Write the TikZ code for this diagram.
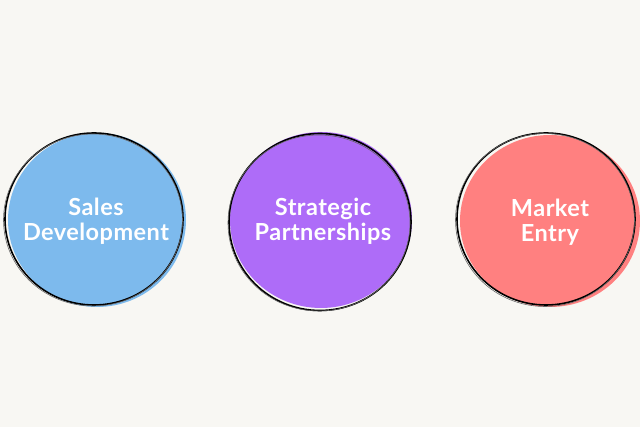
\documentclass[tikz,border=0pt]{standalone}
\usepackage{fontspec}
\setmainfont{Lato}[LetterSpace=2]
\usepackage{tikz}
\usetikzlibrary{shapes.geometric}
\definecolor{paper}{RGB}{248,247,243}
\definecolor{salesblue}{RGB}{125,186,237}
\definecolor{partnerpurple}{RGB}{174,108,248}
\definecolor{entryred}{RGB}{255,128,128}
\tikzstyle{blob} = [ellipse, inner sep=0pt]
\tikzstyle{caption} = [text=white, align=center, inner sep=0pt,
	font=\fontsize{23.5}{25}\selectfont\bfseries]
\tikzstyle{pen} = [black, line width=1.6pt]
\tikzstyle{pentrace} = [black!60, line width=0.6pt]

\begin{document}
\begin{tikzpicture}[x=1pt, y=1pt]
	\fill[paper] (0,0) rectangle (640,427);
	\useasboundingbox (0,0) rectangle (640,427);
	% the three blobs
	\node[blob, fill=salesblue, minimum width=178pt, minimum height=174pt] (sales) at (97,207) {};
	\node[blob, fill=partnerpurple, minimum width=182pt, minimum height=176pt] (partner) at (321,207) {};
	\node[blob, fill=entryred, minimum width=180pt, minimum height=172pt] (entry) at (550,206) {};
	% hand drawn rims
	\draw[pen] ([shift={(-3,1)}]sales.center) ellipse [x radius=89pt, y radius=86pt];
	\draw[pentrace] ([shift={(-4,0)}]sales.center) ellipse [x radius=89.5pt, y radius=86pt];
	\draw[pen] ([shift={(-1,-2)}]partner.center) ellipse [x radius=91pt, y radius=88.5pt];
	\draw[pentrace] ([shift={(-2,-3)}]partner.center) ellipse [x radius=91pt, y radius=88pt];
	\draw[pen] ([shift={(-4,2)}]entry.center) ellipse [x radius=89pt, y radius=86pt];
	\draw[pentrace] ([shift={(-5,1)}]entry.center) ellipse [x radius=89.5pt, y radius=86.5pt];
	% labels
	\node[caption] (salestext) at ([shift={(-1,-1)}]sales.center) {Sales\\Development};
	\node[caption] (partnertext) at ([shift={(2,-1)}]partner.center) {Strategic\\Partnerships};
	\node[caption] (entrytext) at ([shift={(0,-1)}]entry.center) {Market\\Entry};
\end{tikzpicture}
\end{document}
